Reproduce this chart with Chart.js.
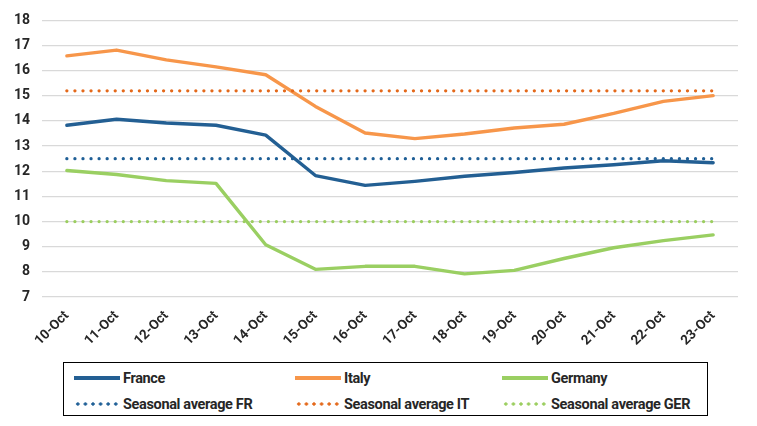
<!DOCTYPE html>
<html><head><meta charset="utf-8">
<script src="https://cdn.jsdelivr.net/npm/chart.js@4.4.0/dist/chart.umd.min.js"></script>
<style>
html,body{margin:0;padding:0;background:#fff;}
#wrap{position:relative;width:757px;height:426px;font-family:Roboto,sans-serif;}
#cbox{position:absolute;left:0;top:0;width:757px;height:355px;}
#legend{position:absolute;left:63px;top:362px;width:645px;height:54px;border:1.3px solid #000;box-sizing:border-box;}
.li{position:absolute;height:20px;display:flex;align-items:center;font-size:14.5px;font-weight:700;color:#262626;white-space:nowrap;letter-spacing:-0.35px;}
.sw{width:46px;height:4px;margin-right:3px;}
</style></head>
<body><div id="wrap"><div id="cbox"><canvas id="c"></canvas></div><div id="legend"></div></div>
<script>
const categories = ["10-Oct","11-Oct","12-Oct","13-Oct","14-Oct","15-Oct","16-Oct","17-Oct","18-Oct","19-Oct","20-Oct","21-Oct","22-Oct","23-Oct"];
const france  = [13.83,14.07,13.92,13.83,13.44,11.83,11.44,11.60,11.80,11.95,12.13,12.26,12.42,12.34];
const italy   = [16.59,16.82,16.43,16.15,15.84,14.58,13.52,13.30,13.48,13.72,13.87,14.30,14.78,15.01];
const germany = [12.03,11.87,11.63,11.52,9.08,8.10,8.22,8.22,7.92,8.06,8.53,8.96,9.24,9.47];
const seasonalFR  = [12.5,12.5,12.5,12.5,12.5,12.5,12.5,12.5,12.5,12.5,12.5,12.5,12.5,12.5];
const seasonalIT  = [15.2,15.2,15.2,15.2,15.2,15.2,15.2,15.2,15.2,15.2,15.2,15.2,15.2,15.2];
const seasonalGER = [10,10,10,10,10,10,10,10,10,10,10,10,10,10];
const yTicks = [7,8,9,10,11,12,13,14,15,16,17,18];

const solid = (label, data, color) => ({label, data, borderColor:color, backgroundColor:color, borderWidth:3.4, pointRadius:0, tension:0, fill:false, borderCapStyle:'round', borderJoinStyle:'round'});
const dotted = (label, data, color) => ({label, data, borderColor:color, backgroundColor:color, borderWidth:3.3, pointRadius:0, fill:false, borderDash:[0.01,8.05], borderCapStyle:'round', dotted:true});

const datasets = [
  dotted("Seasonal average FR", seasonalFR, "#1F5F96"),
  dotted("Seasonal average IT", seasonalIT, "#E4691B"),
  dotted("Seasonal average GER", seasonalGER, "#9BCE5F"),
  solid("France", france, "#235F93"),
  solid("Italy", italy, "#F7964A"),
  solid("Germany", germany, "#9ACF62"),
];

const chart = new Chart(document.getElementById('c'), {
  type:'line',
  data:{labels:categories, datasets},
  options:{
    responsive:true, maintainAspectRatio:false, animation:false,
    layout:{padding:{top:17,right:19,left:0,bottom:0}},
    plugins:{legend:{display:false}, tooltip:{enabled:false}},
    scales:{
      x:{offset:true, grid:{display:false}, border:{display:false},
         ticks:{minRotation:45,maxRotation:45,autoSkip:false,color:'#262626',font:{family:'Roboto',size:13.5,weight:'bold'},padding:3},
         afterFit:s=>{s.height=58;}},
      y:{min:7,max:18, border:{display:false},
         grid:{color:'#D9D9D9',lineWidth:1.3,drawTicks:false},
         afterBuildTicks:s=>{s.ticks=yTicks.map(v=>({value:v}));},
         ticks:{color:'#262626',font:{family:'Roboto',size:14,weight:'bold'},padding:12},
         afterFit:s=>{s.width=42;}}
    }
  }
});

// legend from datasets, in the reference's order
const legendOrder = ["France","Italy","Germany","Seasonal average FR","Seasonal average IT","Seasonal average GER"];
const colX = [10, 231, 438];
const rowY = [5, 31];
const lg = document.getElementById('legend');
legendOrder.forEach((name,i)=>{
  const ds = datasets.find(d=>d.label===name);
  const it = document.createElement('div');
  it.className='li';
  it.style.left=colX[i%3]+'px'; it.style.top=rowY[Math.floor(i/3)]+'px';
  const sw = document.createElement('span'); sw.className='sw';
  if(ds.dotted){
    sw.style.background=`radial-gradient(circle, ${ds.borderColor} 1.4px, transparent 1.9px) 0 0/7.6px 4px repeat-x`;
  } else { sw.style.background=ds.borderColor; sw.style.height='3.6px'; }
  const tx = document.createElement('span'); tx.textContent=name;
  it.appendChild(sw); it.appendChild(tx); lg.appendChild(it);
});
</script></body></html>
